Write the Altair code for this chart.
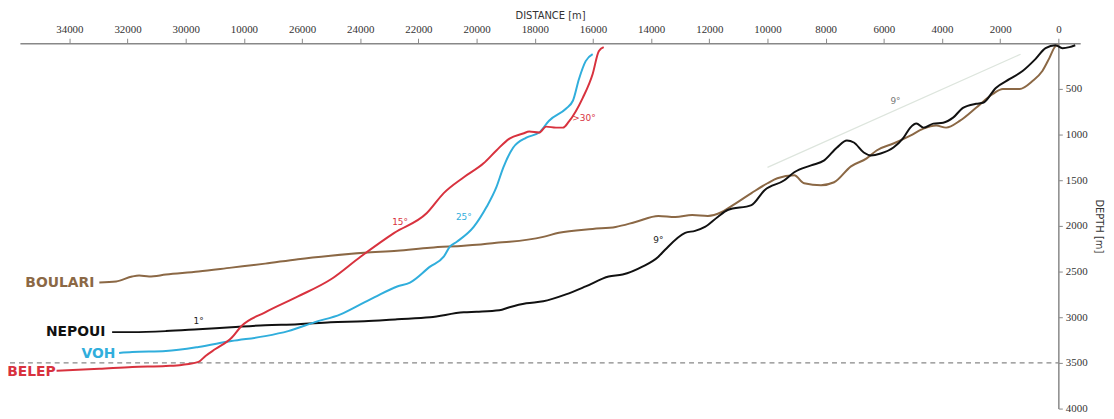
import altair as alt
import pandas as pd

# ---- data (distance in m, depth in m) ----
boulari_d = [32970, 32390, 31840, 31600, 31260, 30680, 29560, 28430, 27270, 26140, 25020, 23860,
             22730, 21600, 20440, 20000, 19320, 18870, 17710, 17170, 16010, 15220, 14540, 13750,
             13170, 12590, 12050, 11570, 11130, 10550, 10000, 9660, 9080, 8740, 8160, 7710, 7130,
             6590, 6250, 5670, 5090, 4640, 4200, 3860, 3380, 2830, 2250, 1910, 1330, 890, 550,
             310, 100, 0]
boulari_z = [2620, 2609, 2554, 2544, 2554, 2533, 2500, 2457, 2413, 2364, 2326, 2294,
             2272, 2239, 2217, 2207, 2185, 2174, 2120, 2076, 2033, 2011, 1957, 1891,
             1902, 1881, 1891, 1848, 1761, 1641, 1533, 1478, 1446, 1533, 1554, 1522, 1348,
             1261, 1174, 1098, 1011, 935, 902, 924, 848, 707, 554, 500, 500, 413, 304,
             163, 33, 22]

nepoui_d = [32530, 31840, 30680, 29560, 28430, 27270, 26140, 25020, 23860, 22730, 21600, 20440,
            20000, 19220, 18870, 18290, 17710, 16930, 16250, 15460, 14980, 14300, 13750, 13520,
            12830, 12490, 12150, 11710, 11370, 10550, 10100, 9420, 9080, 8500, 8050, 7610, 7270,
            7030, 6690, 6450, 6110, 5670, 5320, 5090, 4880, 4640, 4300, 3960, 3620, 3280, 2830,
            2590, 2150, 1670, 1230, 790, 440, 100, -140, -380, -580]
nepoui_z = [3163, 3163, 3152, 3131, 3109, 3087, 3076, 3054, 3044, 3022, 3000, 2946,
            2940, 2924, 2891, 2848, 2826, 2750, 2663, 2554, 2533, 2446, 2337, 2261,
            2076, 2054, 2011, 1902, 1826, 1772, 1609, 1500, 1413, 1337, 1283, 1141, 1065,
            1087, 1196, 1228, 1207, 1141, 1033, 924, 880, 924, 880, 870, 815, 707, 663,
            652, 489, 391, 304, 174, 54, 22, 54, 43, 22]

voh_d = [32290, 31840, 30680, 29560, 28430, 27270, 26480, 25560, 24680, 23860, 23520, 22730,
         22290, 21600, 21130, 20920, 20680, 20100, 19660, 19320, 19080, 18740, 18290, 17850,
         17510, 16930, 16690, 16480, 16250, 16010]
voh_z = [3391, 3381, 3370, 3326, 3261, 3207, 3152, 3054, 2968, 2837, 2783, 2663,
         2620, 2446, 2337, 2228, 2174, 2011, 1794, 1576, 1359, 1141, 1033, 978,
         848, 717, 630, 391, 196, 120]

belep_d = [34440, 32970, 31840, 30680, 30140, 29560, 29320, 28980, 28430, 28090, 27270, 26140,
           25020, 23990, 22830, 21710, 21130, 20440, 19760, 19320, 18870, 18400, 18190, 17850,
           17610, 17270, 17030, 16830, 16350, 16010, 15800, 15630]
belep_z = [3587, 3565, 3544, 3533, 3522, 3489, 3424, 3348, 3228, 3098, 2946, 2772,
           2587, 2337, 2076, 1859, 1641, 1467, 1315, 1174, 1044, 989, 967, 978,
           913, 924, 924, 859, 598, 337, 87, 43]

series_names = ["BOULARI", "NEPOUI", "VOH", "BELEP"]
series_colors = ["#8B6845", "#111111", "#30AEDC", "#D8323E"]

# series name labels
name_d = [33140, 32760, 32420, 34470]
name_z = [2630, 3163, 3402, 3598]

# slope annotations
ann_text = ["9°", "9°", "1°", "15°", "25°", ">30°"]
ann_d = [5600, 13750, 29560, 22630, 20440, 16310]
ann_z = [630, 2152, 3044, 1957, 1902, 815]
ann_color = ["#777777", "#222222", "#222222", "#D8323E", "#30AEDC", "#D8323E"]

# reference 9° guide line
guide_d = [10000, 1300]
guide_z = [1359, 120]

# dashed depth line
dash_depth = 3500
dash_from = 36040
dash_to = 0

x_ticks = list(range(0, 34001, 2000))
y_ticks = list(range(500, 4001, 500))

# ---- build tables ----
rows = []
for name, dd, zz in zip(series_names, [boulari_d, nepoui_d, voh_d, belep_d],
                        [boulari_z, nepoui_z, voh_z, belep_z]):
    for i, (a, b) in enumerate(zip(dd, zz)):
        rows.append({"series": name, "d": a, "z": b, "i": i})
lines_df = pd.DataFrame(rows)

names_df = pd.DataFrame({"series": series_names, "d": name_d, "z": name_z})
ann_df = pd.DataFrame({"t": ann_text, "d": ann_d, "z": ann_z, "c": ann_color})
guide_df = pd.DataFrame({"d": [guide_d[0]], "d2": [guide_d[1]], "z": [guide_z[0]], "z2": [guide_z[1]]})
dash_df = pd.DataFrame({"d": [dash_from], "d2": [dash_to], "z": [dash_depth]})

xscale = alt.Scale(domain=[35700, -750], nice=False, zero=False)
yscale = alt.Scale(domain=[0, 4000], reverse=True, nice=False, zero=False)
cscale = alt.Scale(domain=series_names, range=series_colors)

label_font = "Liberation Sans Narrow"

xaxis = alt.Axis(
    orient="top", title="DISTANCE [m]", values=x_ticks, format="d",
    labelExpr="datum.value == 28000 ? '10000' : format(datum.value, 'd')",
    grid=False, domainColor="#888888", domainWidth=1.5, tickColor="#888888",
    tickSize=5, labelFont=label_font, labelFontSize=11, labelColor="#333333",
    labelPadding=4, titleFont="DejaVu Sans", titleFontSize=10, titleFontWeight="normal",
    titleColor="#333333", titlePadding=3, labelFlush=False,
)
yaxis = alt.Axis(
    orient="right", title="DEPTH [m]", values=y_ticks, format="d", offset=-22, grid=False,
    domainColor="#888888", domainWidth=1.5, tickColor="#888888", tickSize=4,
    labelFont=label_font, labelFontSize=11, labelColor="#333333", labelPadding=3,
    titleFont="DejaVu Sans", titleFontSize=10, titleFontWeight="normal",
    titleColor="#333333", titlePadding=6, titleAngle=90,
)

base = alt.Chart(lines_df)

lines = base.mark_line(strokeWidth=2, clip=False, interpolate="monotone").encode(
    x=alt.X("d:Q", scale=xscale, axis=xaxis),
    y=alt.Y("z:Q", scale=yscale, axis=yaxis),
    color=alt.Color("series:N", scale=cscale, legend=None),
    detail="series:N",
    order=alt.Order("i:Q"),
)

dash = alt.Chart(dash_df).mark_rule(strokeDash=[5, 4], color="#888888", strokeWidth=1.2, clip=False).encode(
    x="d:Q", x2="d2:Q", y="z:Q"
)

guide = alt.Chart(guide_df).mark_rule(color="#dde5dd", strokeWidth=1.2).encode(
    x="d:Q", x2="d2:Q", y="z:Q", y2="z2:Q"
)

names = alt.Chart(names_df).mark_text(
    align="right", baseline="middle", font="DejaVu Sans", fontWeight="bold", fontSize=14, clip=False
).encode(
    x="d:Q", y="z:Q", text="series:N",
    color=alt.Color("series:N", scale=cscale, legend=None),
)

ann = alt.Chart(ann_df).mark_text(
    align="center", baseline="middle", font="DejaVu Sans", fontSize=9
).encode(
    x="d:Q", y="z:Q", text="t:N", color=alt.Color("c:N", scale=None),
)

chart = alt.layer(guide, dash, lines, names, ann).properties(
    width=1068, height=368,
    autosize=alt.AutoSizeParams(type="none"),
    padding={"left": 12, "top": 34, "right": 26, "bottom": 6},
).configure(background="white", view=alt.ViewConfig(stroke=None))

chart.save("out.html", embed_options={"renderer": "svg", "actions": False})
